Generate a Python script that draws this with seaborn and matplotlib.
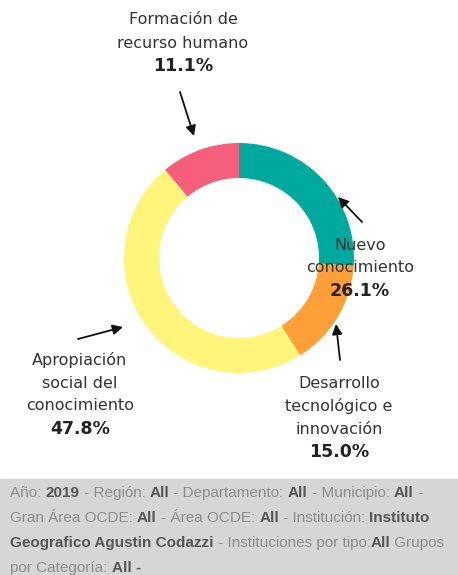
import matplotlib
matplotlib.use("Agg")
import matplotlib.pyplot as plt
from matplotlib.patches import Rectangle
import seaborn as sns

# data
categorias = [["Nuevo", "conocimiento"],
              ["Desarrollo", "tecnológico e", "innovación"],
              ["Apropiación", "social del", "conocimiento"],
              ["Formación de", "recurso humano"]]
porcentajes = [26.1, 15.0, 47.8, 11.1]
colores = ["#00a99d", "#ff9f38", "#fff57a", "#f65f7b"]

# label first-line centre (pixel) and arrow tail/head
label_pos = [(360, 245), (339, 383), (80, 360), (183, 20)]
arrows = [((362, 222), (338, 197)), ((340, 360), (336, 324)),
          ((78, 339), (123, 327)), ((180, 92), (194, 136))]

footer = [
    [("Año: ", False), ("2019", True), (" - Región: ", False), ("All", True),
     (" - Departamento: ", False), ("All", True), (" - Municipio: ", False), ("All", True), (" -", False)],
    [("Gran Área OCDE: ", False), ("All", True), (" - Área OCDE: ", False), ("All", True),
     (" - Institución: ", False), ("Instituto", True)],
    [("Geografico Agustin Codazzi", True), (" - Instituciones por tipo:", False), ("All", True),
     (" Grupos", False)],
    [("por Categoría: ", False), ("All -", True)],
]

sns.set_theme(style="white")
plt.rcParams["font.family"] = ["DejaVu Sans"]

W, H = 458, 575
fig = plt.figure(figsize=(W / 100, H / 100), dpi=100)
ax = fig.add_axes([0, 0, 1, 1])

ax.pie(porcentajes, colors=colores, center=(239, 258), radius=115,
       startangle=-90, counterclock=True,
       wedgeprops=dict(width=35, edgecolor="none"))
ax.set_xlim(0, W)
ax.set_ylim(H, 0)
ax.set_aspect("equal")
ax.axis("off")

for lines, pct, (x, y) in zip(categorias, porcentajes, label_pos):
    for j, ln in enumerate(lines):
        ax.text(x, y + j * 23, ln, ha="center", va="center", fontsize=11.5,
                color="#333333")
    ax.text(x, y + len(lines) * 23, f"{pct:.1f}%", ha="center", va="center",
            fontsize=12.5, fontweight="bold", color="#222222")

for (tail, head) in arrows:
    ax.annotate("", xy=head, xytext=tail,
                arrowprops=dict(arrowstyle="-|>", color="#111111", lw=1.3,
                                mutation_scale=15, shrinkA=0, shrinkB=0))

ax.add_patch(Rectangle((0, 479), W, H - 479, color="#d6d6d6", zorder=0))

fig.canvas.draw()
renderer = fig.canvas.get_renderer()
inv = ax.transData.inverted()
y0 = 493
for i, line in enumerate(footer):
    x = 10
    for txt, bold in line:
        t = ax.text(x, y0 + i * 25, txt, ha="left", va="center", fontsize=11,
                    family="Liberation Sans",
                    fontweight="bold" if bold else "normal",
                    color="#555555" if bold else "#8c8c8c")
        bb = t.get_window_extent(renderer)
        x = inv.transform((bb.x1, bb.y0))[0]

fig.savefig("out.png", dpi=100)
